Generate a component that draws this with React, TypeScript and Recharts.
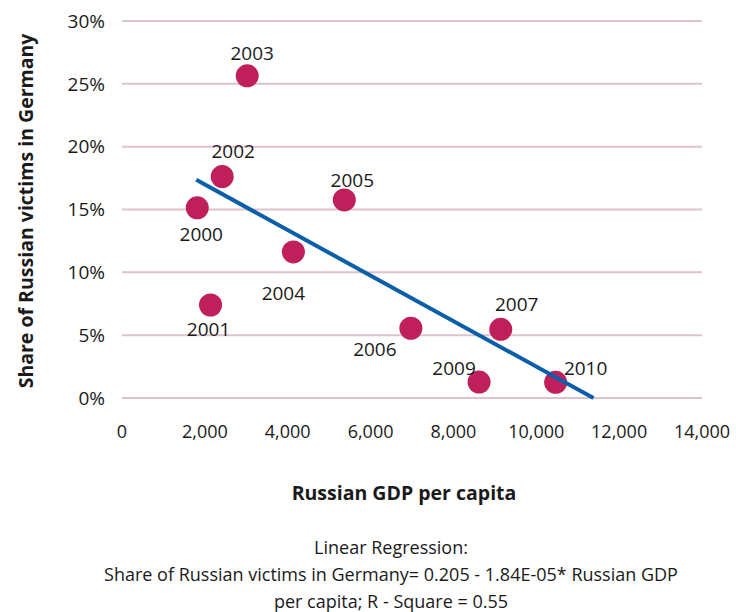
import React from 'react';
import { ScatterChart, Scatter, XAxis, YAxis, CartesianGrid } from 'recharts';

const years = ['2000', '2001', '2002', '2003', '2004', '2005', '2006', '2007', '2009', '2010'];
const gdpPerCapita = [1817, 2137, 2419, 3022, 4137, 5366, 6973, 9142, 8619, 10467];
const victimShare = [0.1513, 0.074, 0.1762, 0.2564, 0.1162, 0.1576, 0.0555, 0.0547, 0.0127, 0.0125];

const xTicks = [0, 2000, 4000, 6000, 8000, 10000, 12000, 14000];
const yTicks = [0, 0.05, 0.1, 0.15, 0.2, 0.25, 0.3];

// regression line, end points
const fitGdp = [1793, 11380];
const fitShare = [0.1736, 0];

// where each year label sits relative to its dot (dx, dy of text centre)
const labelOffset: Record<string, [number, number]> = {
  '2000': [4, 26],
  '2001': [-2, 24],
  '2002': [11, -26],
  '2003': [5, -23],
  '2004': [-10, 41],
  '2005': [8, -20],
  '2006': [-36, 21],
  '2007': [16, -25],
  '2009': [-25, -14],
  '2010': [30, -14],
};

const FONT = '"Open Sans", sans-serif';
const DOT = '#bf1f5a';
const LINE = '#0b5ea8';
const GRID = '#dcc3cd';
const TEXT = '#1a1a1a';

const points = years.map((year, i) => ({ year, gdp: gdpPerCapita[i], share: victimShare[i] }));
const fit = fitGdp.map((g, i) => ({ gdp: g, share: fitShare[i] }));

const DotWithLabel = (props: any) => {
  const { cx, cy, payload } = props;
  const [dx, dy] = labelOffset[payload.year] || [0, -20];
  return (
    <g>
      <circle cx={cx} cy={cy} r={11.5} fill={DOT} />
      <text
        x={cx + dx}
        y={cy + dy}
        textAnchor="middle"
        dominantBaseline="central"
        fontFamily={FONT}
        fontSize={19}
        fill={TEXT}
      >
        {payload.year}
      </text>
    </g>
  );
};

const App = () => {
  return (
    <div style={{ position: 'absolute', left: 0, top: 0, width: 736, height: 612, background: '#fff', fontFamily: FONT, color: TEXT }}>
      <ScatterChart width={736} height={460} margin={{ top: 21, right: 34, left: 0, bottom: 22 }}>
        <CartesianGrid vertical={false} stroke={GRID} strokeWidth={2} />
        <XAxis
          type="number"
          dataKey="gdp"
          domain={[0, 14000]}
          ticks={xTicks}
          height={40}
          axisLine={false}
          tickLine={false}
          tickMargin={21}
          tickFormatter={(v: number) => v.toLocaleString('en-US')}
          tick={{ fill: TEXT, fontSize: 18, fontFamily: FONT }}
        />
        <YAxis
          type="number"
          dataKey="share"
          domain={[0, 0.3]}
          ticks={yTicks}
          width={122}
          axisLine={false}
          tickLine={false}
          tickMargin={11}
          tickFormatter={(v: number) => `${Math.round(v * 100)}%`}
          tick={{ fill: TEXT, fontSize: 19, fontFamily: FONT }}
        />
        <Scatter data={points} shape={DotWithLabel} isAnimationActive={false} />
        <Scatter
          data={fit}
          line={{ stroke: LINE, strokeWidth: 4 }}
          shape={() => <g />}
          isAnimationActive={false}
        />
      </ScatterChart>
      <div
        style={{
          position: 'absolute',
          left: 25,
          top: 211,
          transform: 'translate(-50%, -50%) rotate(-90deg)',
          whiteSpace: 'nowrap',
          fontWeight: 700,
          fontSize: 19.5,
        }}
      >
        Share of Russian victims in Germany
      </div>
      <div
        style={{
          position: 'absolute',
          left: 404,
          top: 492,
          transform: 'translate(-50%, -50%)',
          whiteSpace: 'nowrap',
          fontWeight: 700,
          fontSize: 19.5,
        }}
      >
        Russian GDP per capita
      </div>
      <div style={{ position: 'absolute', left: 46, top: 534, width: 690, textAlign: 'center', fontSize: 18, lineHeight: '27px' }}>
        <div>Linear Regression:</div>
        <div style={{ whiteSpace: 'nowrap' }}>Share of Russian victims in Germany= 0.205 - 1.84E-05* Russian GDP</div>
        <div>per capita; R - Square = 0.55</div>
      </div>
    </div>
  );
};

export default App;
